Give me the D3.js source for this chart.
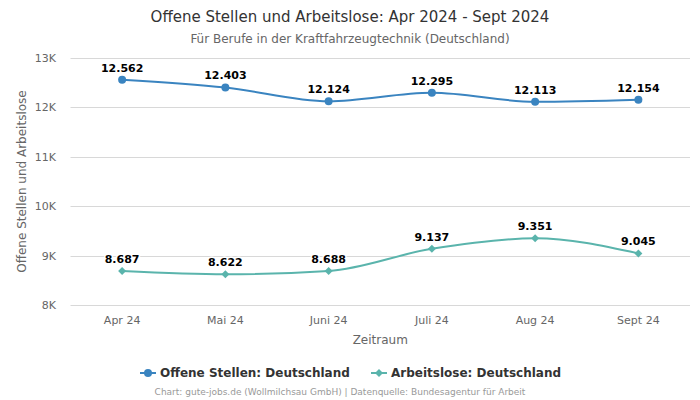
<!DOCTYPE html>
<html><head><meta charset="utf-8">
<script src="https://cdn.jsdelivr.net/npm/d3@7"></script>
<style>body{margin:0;background:#fff;}svg{font-family:"DejaVu Sans",sans-serif;}</style>
</head><body><svg id="c" width="700" height="400"></svg>
<script>
const categories = ["Apr 24","Mai 24","Juni 24","Juli 24","Aug 24","Sept 24"];
const offeneStellen = [12562,12403,12124,12295,12113,12154];
const arbeitslose = [8687,8622,8688,9137,9351,9045];
const yTicks = [8000,9000,10000,11000,12000,13000];
const seriesNames = ["Offene Stellen: Deutschland","Arbeitslose: Deutschland"];

(function(){
const svg = d3.select("#c");
const pLeft = 70.5, pRight = 690, pTop = 58, pBottom = 305;
const x = d3.scaleBand().domain(categories).range([pLeft,pRight]);
const y = d3.scaleLinear().domain([8000,13000]).range([pBottom,pTop]);
const fmt = v => d3.format(",")(v).replace(/,/g,".");

svg.append("text").attr("x",350).attr("y",22).attr("text-anchor","middle").attr("font-size",15).attr("fill","#333").text("Offene Stellen und Arbeitslose: Apr 2024 - Sept 2024");
svg.append("text").attr("x",350).attr("y",43).attr("text-anchor","middle").attr("font-size",12).attr("fill","#666").text("Für Berufe in der Kraftfahrzeugtechnik (Deutschland)");

svg.append("g").selectAll("line").data(yTicks).join("line")
  .attr("x1",pLeft).attr("x2",pRight).attr("y1",d=>Math.round(y(d))+0.5).attr("y2",d=>Math.round(y(d))+0.5)
  .attr("stroke","#d8d8d8").attr("stroke-width",1);
svg.append("g").selectAll("text").data(yTicks).join("text")
  .attr("x",56).attr("y",d=>y(d)+4).attr("text-anchor","end").attr("font-size",11).attr("fill","#666")
  .text(d=>(d/1000)+"K");
svg.append("g").selectAll("text").data(categories).join("text")
  .attr("x",d=>x(d)+x.bandwidth()/2).attr("y",324).attr("text-anchor","middle").attr("font-size",11).attr("fill","#666")
  .text(d=>d);
svg.append("text").attr("x",(pLeft+pRight)/2).attr("y",344).attr("text-anchor","middle").attr("font-size",12).attr("fill","#666").text("Zeitraum");
svg.append("text").attr("transform",`translate(26,${(pTop+pBottom)/2}) rotate(-90)`).attr("text-anchor","middle").attr("font-size",12).attr("fill","#666").text("Offene Stellen und Arbeitslose");

const series = [
  {vals:offeneStellen,color:"#3a84c0",sym:"circle"},
  {vals:arbeitslose,color:"#5ab4ac",sym:"diamond"}
];
const line = d3.line().x((d,i)=>x(categories[i])+x.bandwidth()/2).y(d=>y(d)).curve(d3.curveMonotoneX);
series.forEach(s=>{
  svg.append("path").attr("d",line(s.vals)).attr("fill","none").attr("stroke",s.color).attr("stroke-width",2);
  const g = svg.append("g");
  s.vals.forEach((v,i)=>{
    const cx = x(categories[i])+x.bandwidth()/2, cy = y(v);
    if(s.sym==="circle") g.append("circle").attr("cx",cx).attr("cy",cy).attr("r",4).attr("fill",s.color);
    else g.append("path").attr("d",`M${cx},${cy-4}L${cx+4},${cy}L${cx},${cy+4}L${cx-4},${cy}Z`).attr("fill",s.color);
    g.append("text").attr("x",cx).attr("y",cy-8).attr("text-anchor","middle").attr("font-size",11).attr("font-weight","bold").attr("fill","#000")
      .attr("stroke","#fff").attr("stroke-width",3).attr("paint-order","stroke").attr("stroke-linejoin","round").text(fmt(v));
  });
});

const lg = [{x:140,s:series[0],n:seriesNames[0]},{x:371,s:series[1],n:seriesNames[1]}];
lg.forEach(l=>{
  svg.append("line").attr("x1",l.x).attr("x2",l.x+16).attr("y1",373).attr("y2",373).attr("stroke",l.s.color).attr("stroke-width",2);
  const cx=l.x+8, cy=373;
  if(l.s.sym==="circle") svg.append("circle").attr("cx",cx).attr("cy",cy).attr("r",4).attr("fill",l.s.color);
  else svg.append("path").attr("d",`M${cx},${cy-4}L${cx+4},${cy}L${cx},${cy+4}L${cx-4},${cy}Z`).attr("fill",l.s.color);
  svg.append("text").attr("x",l.x+20).attr("y",377).attr("font-size",12).attr("font-weight","bold").attr("fill","#333").text(l.n);
});
svg.append("text").attr("x",340).attr("y",395).attr("text-anchor","middle").attr("font-size",9).attr("fill","#999").text("Chart: gute-jobs.de (Wollmilchsau GmbH) | Datenquelle: Bundesagentur für Arbeit");
})();
</script></body></html>
